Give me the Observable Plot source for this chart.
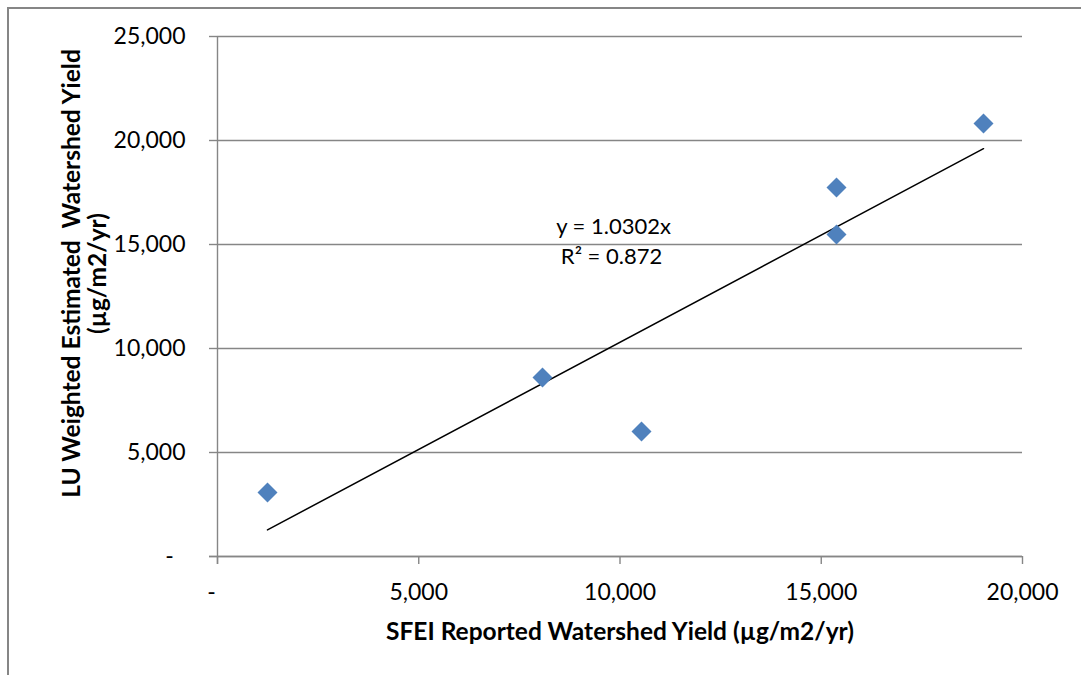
<!DOCTYPE html>
<html>
<head>
<meta charset="utf-8">
<script src="https://cdn.jsdelivr.net/npm/d3@7"></script>
<script src="https://cdn.jsdelivr.net/npm/@observablehq/plot@0.6"></script>
<style>
  html, body { margin: 0; padding: 0; background: #fff; overflow: hidden; width: 1081px; height: 675px; }
  #frame { position: absolute; left: 7px; top: 7px; width: 2000px; height: 2000px; border-left: 2px solid #868686; border-top: 2px solid #868686; }
  #chart { position: absolute; left: 0; top: 0; }
</style>
</head>
<body>
<div id="frame"></div>
<div id="chart"></div>
<script>
// Data
const sfeiYield = [1242, 8075, 10534, 15379, 15379, 19031];
const luYield = [3077, 8606, 6010, 17740, 15481, 20817];
const xTicks = [0, 5000, 10000, 15000, 20000];
const yTicks = [0, 5000, 10000, 15000, 20000, 25000];
const trendSlope = 1.0302;
const equationLines = ["y = 1.0302x", "R\u00b2 = 0.872"];
const equationX = [9840, 9790];
const equationY = [15860, 14420];
const xTitle = "SFEI Reported Watershed Yield (\u00b5g/m2/yr)";
const yTitle = "LU Weighted Estimated \u00a0Watershed Yield\n(\u00b5g/m2/yr)";

const points = sfeiYield.map((x, i) => ({x, y: luYield[i]}));
const trendX = [d3.min(sfeiYield), d3.max(sfeiYield)];
const fmtX = d => d === 0 ? "-\u00a0\u00a0" : d3.format(",")(d);
const fmtY = d => d === 0 ? "-\u00a0\u00a0" : d3.format(",")(d);
const grid = "#868686";

const chart = Plot.plot({
  width: 1081,
  height: 675,
  marginLeft: 217,
  marginRight: 59,
  marginTop: 36,
  marginBottom: 119,
  x: {domain: [0, 20000]},
  y: {domain: [0, 25000]},
  style: {fontFamily: "Lato, 'Open Sans', sans-serif", fontSize: "23px", color: "#000", background: "transparent", overflow: "visible"},
  marks: [
    Plot.gridY(yTicks, {stroke: grid, strokeOpacity: 1, strokeWidth: 1.4}),
    Plot.axisY(yTicks, {tickSize: 8, tickPadding: 24, tickFormat: fmtY, stroke: grid, strokeWidth: 1.4, label: null, fill: "#000", fontSize: 23}),
    Plot.axisX(xTicks, {tickSize: 8, tickPadding: 19, tickFormat: fmtX, stroke: grid, strokeWidth: 1.4, label: null, fill: "#000", fontSize: 23}),
    Plot.ruleX([0], {stroke: grid, strokeWidth: 1.4, insetBottom: -8}),
    Plot.ruleY([0], {stroke: grid, strokeWidth: 1.4, insetLeft: -8}),
    Plot.line(trendX, {x: d => d, y: d => trendSlope * d, stroke: "#000", strokeWidth: 1.5}),
    Plot.dot(points, {x: "x", y: "y", symbol: "diamond2", r: 9, fill: "#4F81BD", stroke: "none"}),
    Plot.text(equationLines, {x: (d, i) => equationX[i], y: (d, i) => equationY[i], text: d => d, fontSize: 22, fill: "#000"}),
    Plot.text([xTitle], {frameAnchor: "bottom", textAnchor: "middle", lineAnchor: "middle", dy: 76, text: d => d, fontWeight: "bold", fontSize: 24.5, fill: "#000"}),
    Plot.text([yTitle], {frameAnchor: "left", textAnchor: "middle", lineAnchor: "middle", rotate: -90, dx: -133, dy: -23, text: d => d, fontWeight: "bold", fontSize: 24.5, lineHeight: 1.06, fill: "#000"})
  ]
});
document.getElementById("chart").appendChild(chart);
</script>
</body>
</html>
